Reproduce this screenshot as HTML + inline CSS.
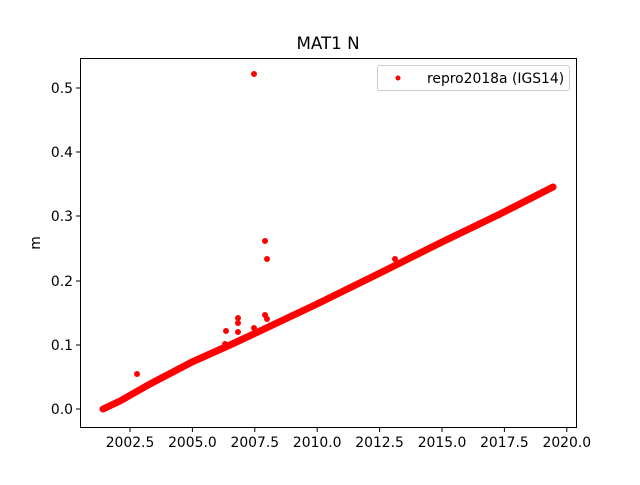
<!DOCTYPE html>
<html><head><meta charset="utf-8"><style>
body{margin:0;background:#fff}
text{font-family:"DejaVu Sans","Liberation Sans",sans-serif;font-size:13.9px;fill:#000}
</style></head><body>
<svg width="640" height="480" xmlns="http://www.w3.org/2000/svg">
<rect width="640" height="480" fill="#fff"/>
<text x="328" y="49" text-anchor="middle" style="font-size:16.7px">MAT1 N</text>
<g fill="red" stroke="red">
<polyline fill="none" stroke-width="7" stroke-linecap="round" stroke-linejoin="round" points="103,409 120,401 150,384 192,362 230,345 260,331 317,304 380,273 440,243 500,214 553,187"/>
<circle cx="254" cy="74" r="2.5"/>
<circle cx="265" cy="241" r="2.5"/>
<circle cx="267" cy="259" r="2.5"/>
<circle cx="137" cy="374" r="2.5"/>
<circle cx="226" cy="331" r="2.5"/>
<circle cx="238" cy="318" r="2.5"/>
<circle cx="238" cy="323" r="2.5"/>
<circle cx="238" cy="332" r="2.5"/>
<circle cx="254" cy="328" r="2.5"/>
<circle cx="265" cy="315" r="2.5"/>
<circle cx="267" cy="319" r="2.5"/>
<circle cx="395" cy="259" r="2.5"/>
<circle cx="225" cy="344" r="2.5"/>
</g>
<rect x="80.5" y="58.5" width="496" height="369" fill="none" stroke="#000" stroke-width="1"/>
<g stroke="#000">
<line x1="80" y1="409" x2="76" y2="409"/><line x1="80" y1="345" x2="76" y2="345"/>
<line x1="80" y1="281" x2="76" y2="281"/><line x1="80" y1="216" x2="76" y2="216"/>
<line x1="80" y1="152" x2="76" y2="152"/><line x1="80" y1="88" x2="76" y2="88"/>
<line x1="130" y1="428" x2="130" y2="432"/><line x1="192.4" y1="428" x2="192.4" y2="432"/>
<line x1="254.8" y1="428" x2="254.8" y2="432"/><line x1="317.2" y1="428" x2="317.2" y2="432"/>
<line x1="379.6" y1="428" x2="379.6" y2="432"/><line x1="442" y1="428" x2="442" y2="432"/>
<line x1="504.4" y1="428" x2="504.4" y2="432"/><line x1="566.8" y1="428" x2="566.8" y2="432"/>
</g>
<g text-anchor="end">
<text x="73" y="414">0.0</text><text x="73" y="350">0.1</text><text x="73" y="286">0.2</text>
<text x="73" y="221">0.3</text><text x="73" y="157">0.4</text><text x="73" y="93">0.5</text>
</g>
<g text-anchor="middle">
<text x="130" y="447">2002.5</text><text x="192.4" y="447">2005.0</text><text x="254.8" y="447">2007.5</text>
<text x="317.2" y="447">2010.0</text><text x="379.6" y="447">2012.5</text><text x="442" y="447">2015.0</text>
<text x="504.4" y="447">2017.5</text><text x="566.8" y="447">2020.0</text>
</g>
<text x="40" y="243" text-anchor="middle" transform="rotate(-90 40 243)">m</text>
<rect x="377.5" y="65.5" width="192" height="25" rx="2" fill="#fff" stroke="#ccc"/>
<circle cx="398" cy="78" r="2.5" fill="red"/>
<text x="427" y="83">repro2018a (IGS14)</text>
</svg>
</body></html>
